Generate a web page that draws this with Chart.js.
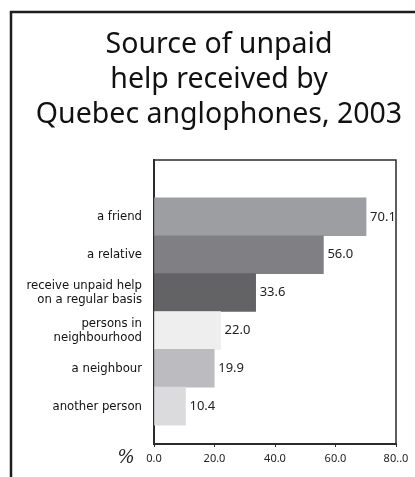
<!DOCTYPE html>
<html>
<head>
<meta charset="utf-8">
<script src="https://cdn.jsdelivr.net/npm/chart.js@4"></script>
<style>
  html, body { margin: 0; padding: 0; background: #fff; }
  #wrap { width: 415px; height: 477px; }
</style>
</head>
<body>
<div id="wrap"><canvas id="grafico" width="415" height="477"></canvas></div>
<script>
// dados do grafico
const titulo    = ["Source of unpaid", "help received by", "Quebec anglophones, 2003"];
const fontes    = ["a friend", "a relative", ["receive unpaid help", "on a regular basis"], ["persons in", "neighbourhood"], "a neighbour", "another person"];
const valores   = [70.1, 56.0, 33.6, 22.0, 19.9, 10.4];
const rotulosX  = ["0.0", "20.0", "40.0", "60.0", "80..0"];
const coresBarras = ["#9d9ea2", "#808084", "#636365", "#eeeeee", "#bcbcc0", "#dbdbde"];

const linha = "#2b2b2b";

// moldura, titulo, rotulos das barras e o "%"
const extras = {
  id: "extras",
  afterDraw(chart) {
    const ctx = chart.ctx;
    const area = chart.chartArea;
    ctx.save();

    // moldura externa
    ctx.strokeStyle = "#1e1e1e";
    ctx.lineWidth = 2.5;
    ctx.beginPath();
    ctx.moveTo(11, 477);
    ctx.lineTo(11, 12);
    ctx.lineTo(415, 12);
    ctx.stroke();

    // caixa do grafico (topo e direita)
    ctx.strokeStyle = linha;
    ctx.lineWidth = 1.5;
    ctx.beginPath();
    ctx.moveTo(area.left, area.top);
    ctx.lineTo(area.right, area.top);
    ctx.lineTo(area.right, area.bottom);
    ctx.stroke();

    // titulo
    ctx.fillStyle = "#111";
    ctx.font = "28.5px 'Noto Sans'";
    ctx.textAlign = "center";
    ctx.textBaseline = "alphabetic";
    titulo.forEach((t, i) => ctx.fillText(t, 219, 53 + i * 35));

    // valores ao lado das barras
    ctx.font = "13px 'Noto Sans'";
    ctx.textAlign = "left";
    ctx.textBaseline = "middle";
    ctx.fillStyle = "#222";
    chart.getDatasetMeta(0).data.forEach((bar, i) => {
      ctx.fillText(valores[i].toFixed(1), bar.x + 4, bar.y);
    });

    // simbolo de %
    ctx.font = "italic 18px 'DejaVu Serif'";
    ctx.textAlign = "center";
    ctx.fillText("%", area.left - 28, chart.scales.x.bottom - 19);
    ctx.restore();
  }
};

new Chart(document.getElementById("grafico"), {
  type: "bar",
  data: {
    datasets: [{
      data: valores.map((v, i) => ({ x: v, y: i })),
      backgroundColor: coresBarras,
      borderWidth: 0,
      barPercentage: 1,
      categoryPercentage: 1
    }]
  },
  options: {
    indexAxis: "y",
    responsive: false,
    animation: false,
    layout: { padding: { top: 160, right: 19, left: 0, bottom: 0 } },
    plugins: {
      legend: { display: false },
      tooltip: { enabled: false }
    },
    scales: {
      x: {
        type: "linear",
        min: 0,
        max: 80,
        afterBuildTicks: s => { s.ticks = [0, 20, 40, 60, 80].map(v => ({ value: v })); },
        afterFit: s => { s.height = 33; },
        border: { display: true, color: linha, width: 2 },
        grid: { drawOnChartArea: false, display: true, tickLength: 3, color: linha },
        ticks: {
          padding: 5,
          color: "#222",
          font: { family: "'Noto Sans'", size: 11 },
          callback: (v, i) => rotulosX[i]
        }
      },
      y: {
        type: "linear",
        reverse: true,
        offset: false,
        min: -1.5,
        max: 6,
        afterBuildTicks: s => { s.ticks = fontes.map((f, i) => ({ value: i })); },
        afterFit: s => { s.width = 154; },
        border: { display: true, color: linha, width: 2 },
        grid: { display: false },
        ticks: {
          padding: 4,
          color: "#111",
          font: { family: "'DejaVu Sans Condensed', 'DejaVu Sans'", size: 13, lineHeight: 1.1 },
          callback: v => fontes[v]
        }
      }
    }
  },
  plugins: [extras]
});
</script>
</body>
</html>
